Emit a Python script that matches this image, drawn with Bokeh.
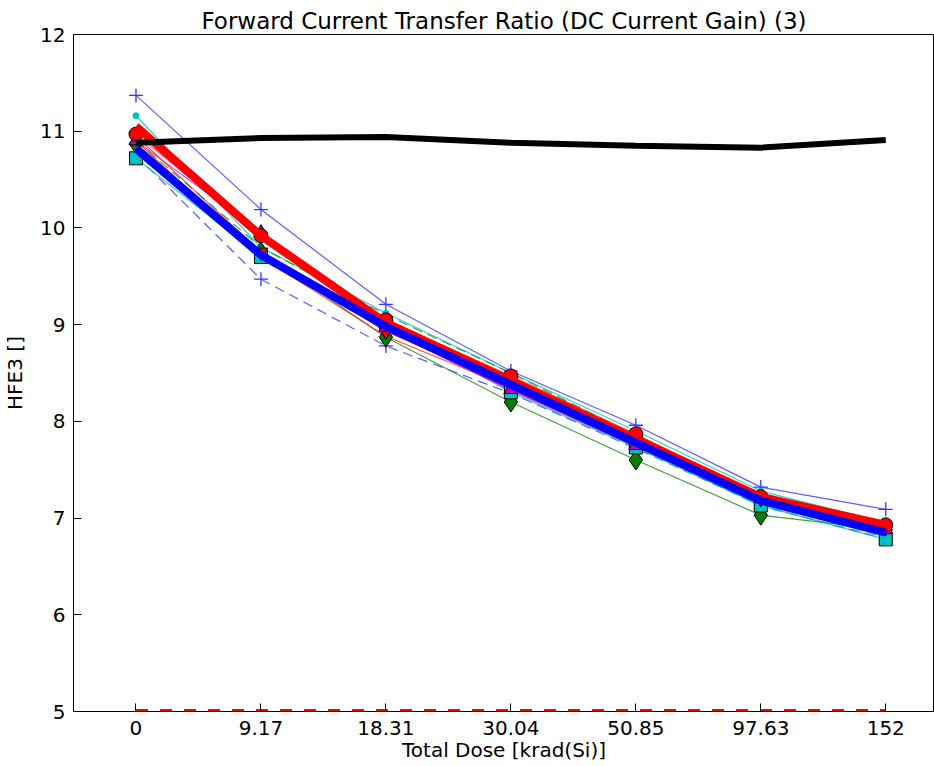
from bokeh.plotting import figure
from bokeh.models import Range1d, FixedTicker
from bokeh.embed import file_html
from bokeh.resources import INLINE

doses = ["0", "9.17", "18.31", "30.04", "50.85", "97.63", "152"]
xi = list(range(len(doses)))

# thin sample series
s_blue_plus = [11.37, 10.19, 9.21, 8.52, 7.96, 7.32, 7.09]
s_blue_dash_plus = [10.75, 9.47, 8.78, 8.29, 7.72, 7.13, 6.78]
s_cyan_dot = [11.16, 9.80, 9.12, 8.50, 7.90, 7.28, 6.95]
s_cyan_square = [10.72, 9.70, 9.02, 8.30, 7.73, 7.13, 6.78]
s_green_diamond = [10.87, 9.75, 8.87, 8.20, 7.60, 7.03, 6.88]
s_red_circle = [10.97, 9.92, 9.05, 8.47, 7.87, 7.22, 6.93]
s_magenta_tri = [10.90, 9.95, 8.97, 8.33, 7.75, 7.20, 6.88]
s_red_tri_down = [10.95, 9.75, 8.93, 8.38, 7.80, 7.20, 6.90]
s_green_dash = [10.90, 9.80, 9.10, 8.50, 7.85, 7.25, 6.90]
s_red_dash = [10.85, 9.75, 9.00, 8.42, 7.82, 7.18, 6.88]
s_cyan_dash = [10.80, 9.70, 9.00, 8.35, 7.75, 7.12, 6.80]
s_red_thin = [10.90, 9.70, 8.88, 8.35, 7.78, 7.18, 6.92]
s_magenta_thin = [10.85, 9.72, 8.95, 8.32, 7.74, 7.17, 6.86]

# summary lines
mean_red = [11.05, 9.92, 9.02, 8.42, 7.82, 7.22, 6.93]
mean_blue = [10.82, 9.72, 8.98, 8.38, 7.78, 7.18, 6.85]
control_black = [10.88, 10.93, 10.94, 10.88, 10.85, 10.83, 10.91]
limit_low = [5.0, 5.0, 5.0, 5.0, 5.0, 5.0, 5.0]

FONT = "DejaVu Sans"

p = figure(width=934, height=766, output_backend="svg", toolbar_location=None,
           x_range=Range1d(-0.5, 6.39), y_range=Range1d(5, 12),
           min_border_left=73, min_border_right=0, min_border_top=34, min_border_bottom=55)
p.title.text = "Forward Current Transfer Ratio (DC Current Gain) (3)"
p.title.align = "center"
p.title.text_font = FONT
p.title.text_font_size = "23px"
p.title.text_font_style = "normal"
p.title.text_color = "black"
p.title.offset = 16
p.title.standoff = 2

p.outline_line_color = "black"
p.outline_line_width = 1
p.grid.visible = False
p.background_fill_color = "white"
p.border_fill_color = "white"

for ax in (p.xaxis[0], p.yaxis[0]):
    ax.major_tick_in = 8
    ax.major_tick_out = 0
    ax.minor_tick_in = 0
    ax.minor_tick_out = 0
    ax.axis_line_color = "black"
    ax.major_label_text_font = FONT
    ax.major_label_text_font_size = "20px"
    ax.major_label_text_color = "black"
    ax.axis_label_text_font = FONT
    ax.axis_label_text_font_size = "20px"
    ax.axis_label_text_font_style = "normal"
    ax.axis_label_text_color = "black"

p.xaxis.ticker = FixedTicker(ticks=xi)
p.xaxis.major_label_overrides = {i: d for i, d in enumerate(doses)}
p.xaxis.axis_label = "Total Dose [krad(Si)]"
p.xaxis.major_label_standoff = 9
p.xaxis.axis_label_standoff = 0
p.yaxis.ticker = FixedTicker(ticks=[5, 6, 7, 8, 9, 10, 11, 12])
p.yaxis.axis_label = "HFE3 []"
p.yaxis.major_label_standoff = 8
p.yaxis.axis_label_standoff = 10

# thin lines
thin = [
    (s_blue_plus, "#3333ff", "solid"),
    (s_blue_dash_plus, "#3333ff", "10 6"),
    (s_cyan_dot, "#00bfbf", "solid"),
    (s_cyan_square, "#00bfbf", "solid"),
    (s_green_diamond, "#118811", "solid"),
    (s_red_circle, "#ff2222", "solid"),
    (s_magenta_tri, "#bf00bf", "solid"),
    (s_red_tri_down, "#ff2222", "solid"),
    (s_green_dash, "#118811", "10 6"),
    (s_red_dash, "#ff2222", "10 6"),
    (s_cyan_dash, "#00bfbf", "10 6"),
    (s_red_thin, "#ff2222", "solid"),
    (s_magenta_thin, "#bf00bf", "solid"),
]
for ys, col, dash in thin:
    p.line(xi, ys, line_color=col, line_width=1.2, line_dash=dash, line_alpha=0.8)

# markers
p.scatter(xi, s_blue_plus, marker="cross", size=14, line_color="#3333ff", line_width=1.3)
p.scatter(xi, s_blue_dash_plus, marker="cross", size=14, line_color="#3333ff", line_width=1.3)
p.scatter(xi, s_cyan_dot, marker="circle", size=6, fill_color="#00bfbf", line_color="#00bfbf")
p.scatter(xi, s_green_diamond, marker="diamond", size=20, fill_color="#007f00", line_color="black")
p.scatter(xi, s_cyan_square, marker="square", size=13, fill_color="#00bfbf", line_color="black")
p.scatter(xi, s_red_tri_down, marker="inverted_triangle", size=14, fill_color="#ff0000", line_color="black")
p.scatter(xi, s_magenta_tri, marker="triangle", size=14, fill_color="#bf00bf", line_color="black")
p.scatter(xi, s_red_circle, marker="circle", size=14, fill_color="#ff0000", line_color="black")

# thick lines
p.line(xi, mean_red, line_color="#ff0000", line_width=8)
p.line(xi, mean_blue, line_color="#0000ff", line_width=8)
p.line(xi, control_black, line_color="black", line_width=6)
p.line(xi, limit_low, line_color="#ff0000", line_width=5, line_dash="12 12")

open("out.html", "w").write(file_html(p, INLINE))
